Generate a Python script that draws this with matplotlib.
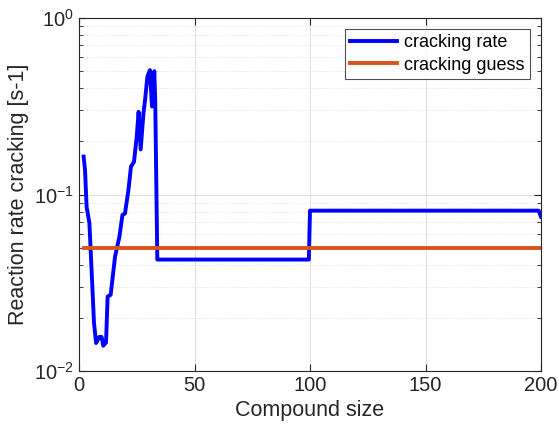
import numpy as np
import matplotlib
matplotlib.use("Agg")
import matplotlib.pyplot as plt
from matplotlib.ticker import LogLocator, FixedLocator, NullFormatter

plt.rcParams['font.family'] = ['Liberation Sans', 'DejaVu Sans']

# compound size and fitted cracking rate constant
size = [2, 2.6, 3.3, 4.5, 5.5, 6.5, 7.4, 8.8, 9.8, 10.5, 11.7, 12.4, 13.7,
        15.6, 17.5, 18.8, 19.9, 21.4, 22.5, 23.8, 25.0, 25.8, 26.7, 27.9,
        28.6, 29.6, 30.7, 31.6, 32.6, 33.0, 33.9, 99.5, 100.0, 199.0, 200.0]
rate = [0.164, 0.138, 0.085, 0.069, 0.036, 0.0187, 0.0144, 0.0156, 0.0156,
        0.0139, 0.0145, 0.0264, 0.027, 0.0444, 0.0577, 0.0765, 0.078, 0.106,
        0.144, 0.153, 0.213, 0.294, 0.18, 0.288, 0.343, 0.465, 0.507, 0.315,
        0.50, 0.34, 0.0428, 0.0428, 0.081, 0.081, 0.0748]

guess_size = [2, 200]
guess_rate = [0.05, 0.05]

fig = plt.figure(figsize=(5.59, 4.32), dpi=100)
ax = fig.add_axes([79/559, 1-371/432, (541-79)/559, (371-18)/432])

ax.plot(size, rate, color=(0, 0, 1), lw=2.8, label='cracking rate', zorder=3)
ax.plot(guess_size, guess_rate, color=(0.85, 0.325, 0.098), lw=2.8,
        label='cracking guess', zorder=3)

ax.set_yscale('log')
ax.set_xlim(0, 200)
ax.set_ylim(1e-2, 1e0)
ax.xaxis.set_major_locator(FixedLocator([0, 50, 100, 150, 200]))
ax.yaxis.set_major_locator(LogLocator(base=10, numticks=10))
ax.yaxis.set_minor_locator(LogLocator(base=10, subs=np.arange(2, 10), numticks=20))
ax.yaxis.set_minor_formatter(NullFormatter())

axc = (0.15, 0.15, 0.15)
for s in ax.spines.values():
    s.set_color(axc)
    s.set_linewidth(0.8)
ax.tick_params(axis='both', which='both', direction='in', colors=axc,
               top=True, right=True, labelsize=14.5)
ax.tick_params(which='major', length=5)
ax.tick_params(which='minor', length=3)
for lab in ax.get_xticklabels() + ax.get_yticklabels():
    lab.set_color(axc)

ax.grid(True, which='major', color=(0.88, 0.88, 0.88), lw=0.8)
ax.grid(True, which='minor', axis='y', color=(0.84, 0.84, 0.84), lw=0.6,
        linestyle=(0, (1, 2)))
ax.set_axisbelow(True)

ax.set_xlabel('Compound size', fontsize=15.5, color=axc)
ax.set_ylabel('Reaction rate cracking [s-1]', fontsize=15.5, color=axc)

leg = ax.legend(loc='upper right', fontsize=13, frameon=True, fancybox=False,
                edgecolor=axc, handlelength=2.6, borderaxespad=0.6,
                labelspacing=0.3, handletextpad=0.4, borderpad=0.3)
leg.get_frame().set_linewidth(0.8)

fig.savefig('out.png', dpi=100)
